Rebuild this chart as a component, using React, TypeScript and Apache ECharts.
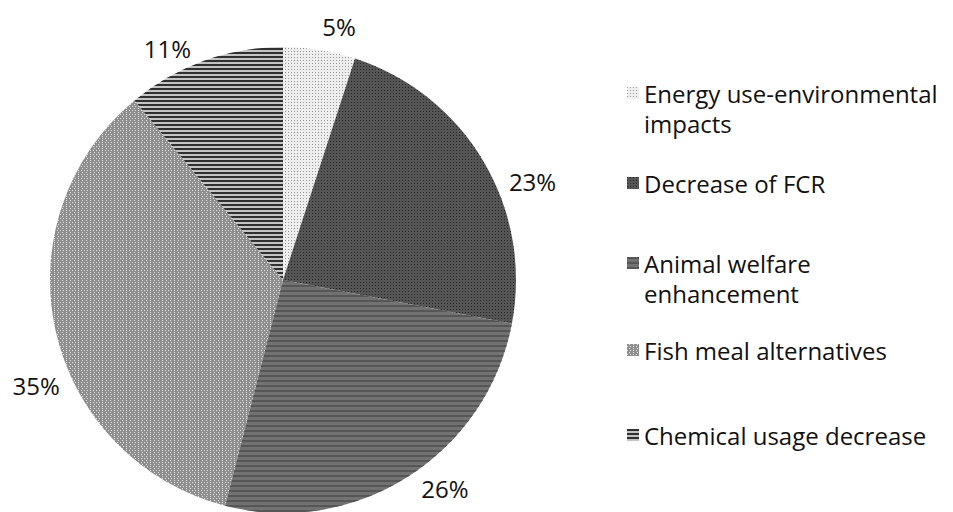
import React, { useEffect, useRef } from "react";
import * as echarts from "echarts";

const categories = [
  "Energy use-environmental impacts",
  "Decrease of FCR",
  "Animal welfare enhancement",
  "Fish meal alternatives",
  "Chemical usage decrease",
];
const shares = [5, 23, 26, 35, 11];
const legendLines = [
  ["Energy use-environmental", "impacts"],
  ["Decrease of FCR"],
  ["Animal welfare", "enhancement"],
  ["Fish meal alternatives"],
  ["Chemical usage decrease"],
];

const FONT = "'Open Sans', 'Noto Sans', sans-serif";

const fills = [
  { color: "#eeeeee", decal: { symbol: "rect", color: "#9a9a9a", dashArrayX: [1, 2], dashArrayY: [1, 2], symbolSize: 1, rotation: 0 } },
  { color: "#555555", decal: { symbol: "rect", color: "#262626", dashArrayX: [1, 2], dashArrayY: [1, 2], symbolSize: 1, rotation: 0 } },
  { color: "#727272", decal: { symbol: "rect", color: "#565656", dashArrayX: [1, 0], dashArrayY: [2, 3], symbolSize: 1, rotation: 0 } },
  { color: "#8e8e8e", decal: { symbol: "rect", color: "#e4e4e4", dashArrayX: [[1, 2], [0, 1.5, 1, 0.5]], dashArrayY: [1, 1], symbolSize: 1, rotation: 0 } },
  { color: "#c4c4c4", decal: { symbol: "rect", color: "#303030", dashArrayX: [1, 0], dashArrayY: [2, 2], symbolSize: 1, rotation: 0 } },
];

const legendTops = [48, 168, 218, 335, 420];
const labelShift = [
  [-8, -12],
  [6, 26],
  [-2, 2],
  [25, 52],
  [0, -1],
];

export default function App() {
  const ref = useRef<HTMLDivElement>(null);
  useEffect(() => {
    document.body.style.margin = "0";
    const chart = echarts.init(ref.current!, undefined, { renderer: "svg" });
    const legends = categories.map((name, i) => ({
      show: true,
      left: 627,
      top: legendTops[i],
      orient: "vertical",
      padding: 0,
      icon: "rect",
      itemWidth: 12,
      itemHeight: 12,
      itemGap: 0,
      selectedMode: false,
      data: [name],
      formatter: () => {
        const lines = legendLines[i];
        return lines.length > 1 ? "\n" + lines.join("\n") : lines[0];
      },
      textStyle: { fontFamily: FONT, fontSize: 24, color: "#111111", lineHeight: 30 },
    }));
    chart.setOption({
      animation: false,
      backgroundColor: "#ffffff",
      legend: legends,
      series: [
        {
          type: "pie",
          center: [283, 280],
          radius: 233,
          startAngle: 90,
          clockwise: true,
          avoidLabelOverlap: false,
          data: categories.map((name, i) => ({
            name,
            value: shares[i],
            itemStyle: { color: fills[i].color, decal: fills[i].decal },
          })),
          label: {
            show: true,
            position: "outside",
            formatter: "{c}%",
            fontFamily: FONT,
            fontSize: 24,
            color: "#111111",
          },
          labelLine: { show: false, length: 12, length2: 4 },
          labelLayout: (params: any) => {
            const s = labelShift[params.dataIndex] || [0, 0];
            return { dx: s[0], dy: s[1] };
          },
          emphasis: { disabled: true },
        },
      ],
    });
    return () => chart.dispose();
  }, []);
  return <div ref={ref} style={{ width: 953, height: 512 }} />;
}
